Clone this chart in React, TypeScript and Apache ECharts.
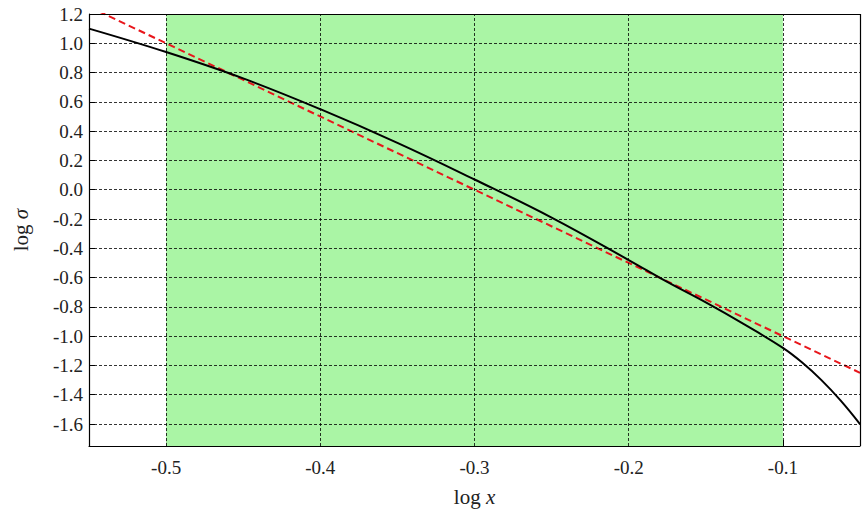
import { useEffect, useRef } from 'react'
import * as echarts from 'echarts'

// black curve
const curveX = [-0.55, -0.5, -0.45, -0.4, -0.35, -0.3, -0.25, -0.2, -0.175, -0.15, -0.125, -0.1, -0.0875, -0.075, -0.0625, -0.05]
const curveY = [1.1, 0.94, 0.76, 0.55, 0.32, 0.07, -0.19, -0.48, -0.63, -0.77, -0.92, -1.08, -1.18, -1.3, -1.44, -1.6]
// red dashed fit line
const fitX = [-0.55, -0.05]
const fitY = [1.25, -1.25]
const xTicks = [-0.5, -0.4, -0.3, -0.2, -0.1]
const yTicks = [1.2, 1.0, 0.8, 0.6, 0.4, 0.2, 0.0, -0.2, -0.4, -0.6, -0.8, -1.0, -1.2, -1.4, -1.6]
const band = [-0.5, -0.1]

const font = '"Liberation Serif", "DejaVu Serif", serif'

export default function App() {
  const chartRef = useRef<HTMLDivElement>(null)

  useEffect(() => {
    if (!chartRef.current) return
    const chart = echarts.init(chartRef.current, null, { renderer: 'svg' })

    const gridStyle = { color: '#000', type: [3, 2] as number[], width: 0.8 }
    const nameStyle = {
      fontSize: 21, color: '#222', fontFamily: font,
      rich: { i: { fontStyle: 'italic', fontSize: 21, color: '#222', fontFamily: font } }
    }

    const option = {
      animation: false,
      textStyle: { fontFamily: font },
      grid: { left: 89, right: 6, top: 14, bottom: 64 },
      xAxis: {
        type: 'value',
        min: -0.55,
        max: -0.05,
        name: 'log {i|x}',
        nameLocation: 'middle',
        nameGap: 40,
        nameTextStyle: nameStyle,
        axisLine: { onZero: false, lineStyle: { color: '#000', width: 1.2 } },
        axisTick: { inside: true, length: 6, customValues: xTicks, lineStyle: { color: '#000' } },
        axisLabel: { customValues: xTicks, fontSize: 19, fontFamily: font, color: '#222', margin: 12, formatter: (v: number) => v.toFixed(1) },
        splitLine: { show: false }
      },
      yAxis: {
        type: 'value',
        min: -1.75,
        max: 1.2,
        name: 'log {i|σ}',
        nameLocation: 'middle',
        nameGap: 58,
        nameTextStyle: nameStyle,
        axisLine: { onZero: false, lineStyle: { color: '#000', width: 1.2 } },
        axisTick: { inside: true, length: 6, customValues: yTicks, lineStyle: { color: '#000' } },
        axisLabel: { customValues: yTicks, fontSize: 19, fontFamily: font, color: '#222', margin: 6, formatter: (v: number) => v.toFixed(1) },
        splitLine: { show: false }
      },
      series: [
        {
          type: 'line',
          data: [],
          markArea: {
            silent: true,
            itemStyle: { color: '#aaf5a5' },
            data: [[{ xAxis: band[0] }, { xAxis: band[1] }]]
          },
          markLine: {
            silent: true,
            symbol: 'none',
            label: { show: false },
            lineStyle: gridStyle,
            data: [
              ...xTicks.map(v => ({ xAxis: v })),
              ...yTicks.map(v => ({ yAxis: v }))
            ]
          }
        },
        {
          type: 'line',
          data: fitX.map((x, i) => [x, fitY[i]]),
          showSymbol: false,
          lineStyle: { color: '#e8161b', width: 2, type: [7, 4] },
          z: 4
        },
        {
          type: 'line',
          data: curveX.map((x, i) => [x, curveY[i]]),
          smooth: 0.4,
          showSymbol: false,
          lineStyle: { color: '#000', width: 2 },
          z: 5
        },
        // top/right frame
        {
          type: 'line',
          data: [],
          markLine: {
            silent: true,
            symbol: 'none',
            label: { show: false },
            lineStyle: { color: '#000', width: 1.2, type: 'solid' },
            data: [
              [{ xAxis: -0.55, yAxis: 1.2 }, { xAxis: -0.05, yAxis: 1.2 }],
              [{ xAxis: -0.05, yAxis: 1.2 }, { xAxis: -0.05, yAxis: -1.75 }]
            ]
          }
        }
      ]
    }

    chart.setOption(option)
    return () => chart.dispose()
  }, [])

  return <div ref={chartRef} style={{ position: 'fixed', left: 0, top: 0, width: '866px', height: '512px', background: '#fff' }} />
}
